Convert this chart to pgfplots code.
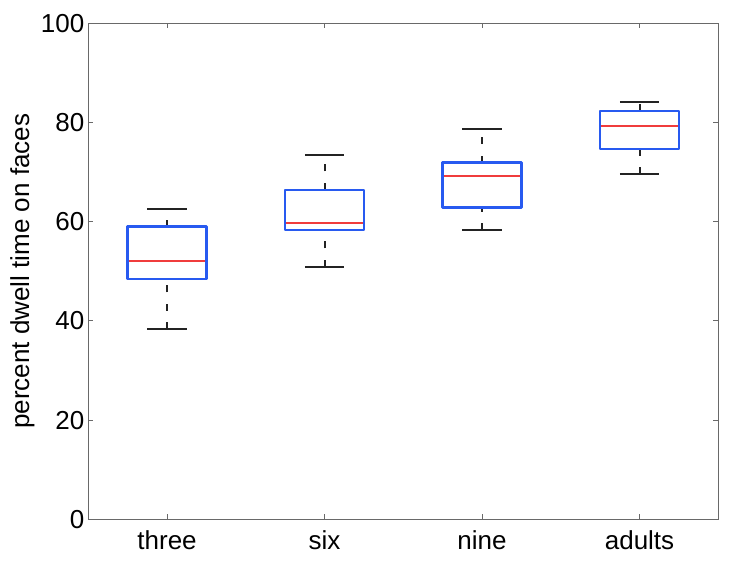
\documentclass[border=0pt]{standalone}
\usepackage{fontspec}
\setmainfont{Liberation Sans}
\usepackage{pgfplots}
\pgfplotsset{compat=1.18}
\definecolor{boxblue}{RGB}{40,90,240}
\definecolor{medred}{RGB}{240,60,60}
\definecolor{axgray}{RGB}{105,105,105}
\definecolor{whisk}{RGB}{35,35,35}
\begin{document}
\begin{tikzpicture}
\useasboundingbox (-44.15pt,-20.85pt) rectangle (320.35pt,259.65pt);
\begin{axis}[
  at={(0,0)}, anchor=south west,
  scale only axis, width=315pt, height=248pt,
  xmin=0.5, xmax=4.5, ymin=0, ymax=100,
  xtick={1,2,3,4}, xticklabels={three,six,nine,adults},
  ytick={0,20,40,60,80,100},
  tick align=inside, xtick pos=both, ytick pos=both,
  major tick length=2.5pt,
  axis line style={axgray, line width=0.7pt},
  every tick/.style={axgray, line width=0.5pt},
  tick label style={font=\fontsize{13}{15}\selectfont, black},
  /pgf/number format/assume math mode=true,
  xticklabel style={yshift=-2pt},
  yticklabel style={xshift=1.5pt},
  ylabel={percent dwell time on faces},
  ylabel style={font=\fontsize{13}{15}\selectfont, at={(axis description cs:-0.1045,0.5)}, anchor=center},
  unbounded coords=jump,
]
% whiskers (dashed): lower whisker -> lower quartile, upper quartile -> upper whisker
\addplot[whisk, line width=1pt, dash pattern=on 3.5pt off 5.75pt, no markers] coordinates {
  (1,38.3) (1,48.4) (1,nan) (1,59.0) (1,62.6) (1,nan)
  (2,50.9) (2,58.3) (2,nan) (2,66.4) (2,73.4) (2,nan)
  (3,58.3) (3,62.9) (3,nan) (3,71.9) (3,78.7) (3,nan)
  (4,69.6) (4,74.6) (4,nan) (4,82.3) (4,84.2)
};
% whisker caps
\addplot[whisk, line width=1.1pt, no markers] coordinates {
  (0.875,38.3) (1.125,38.3) (1,nan) (0.875,62.6) (1.125,62.6) (1,nan)
  (1.875,50.9) (2.125,50.9) (2,nan) (1.875,73.4) (2.125,73.4) (2,nan)
  (2.875,58.3) (3.125,58.3) (3,nan) (2.875,78.7) (3.125,78.7) (3,nan)
  (3.875,69.6) (4.125,69.6) (4,nan) (3.875,84.2) (4.125,84.2)
};
% medians
\addplot[medred, line width=1pt, no markers] coordinates {
  (0.75,52.1) (1.25,52.1) (1,nan)
  (1.75,59.7) (2.25,59.7) (2,nan)
  (2.75,69.3) (3.25,69.3) (3,nan)
  (3.75,79.2) (4.25,79.2)
};
% boxes (lower quartile to upper quartile)
\addplot[boxblue, line width=1.2pt, line join=round, no markers] coordinates {
  (0.75,48.4) (1.25,48.4) (1.25,59.0) (0.75,59.0)} -- cycle;
\addplot[boxblue, line width=1.2pt, line join=round, no markers] coordinates {
  (1.75,58.3) (2.25,58.3) (2.25,66.4) (1.75,66.4)} -- cycle;
\addplot[boxblue, line width=1.2pt, line join=round, no markers] coordinates {
  (2.75,62.9) (3.25,62.9) (3.25,71.9) (2.75,71.9)} -- cycle;
\addplot[boxblue, line width=1.2pt, line join=round, no markers] coordinates {
  (3.75,74.6) (4.25,74.6) (4.25,82.3) (3.75,82.3)} -- cycle;
\end{axis}
\end{tikzpicture}
\end{document}
